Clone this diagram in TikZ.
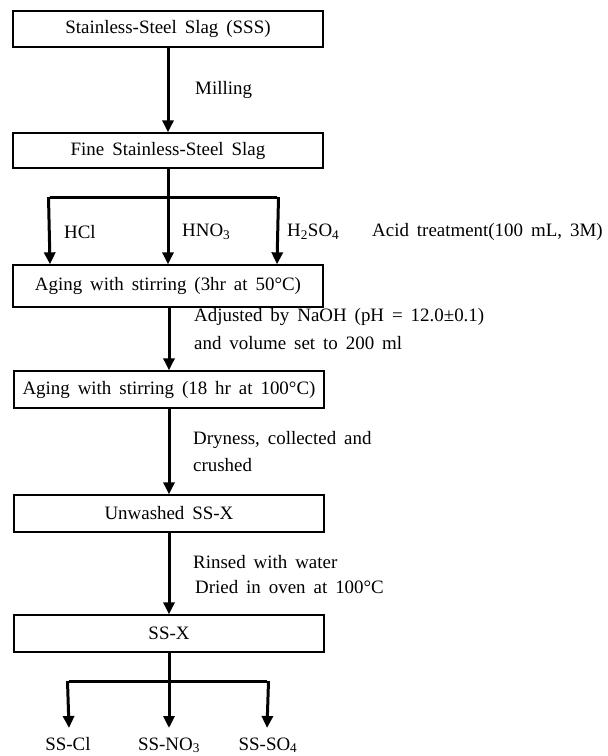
\documentclass[tikz,border=0pt]{standalone}
\usepackage{fontspec}
\setmainfont{Liberation Serif}
\usetikzlibrary{arrows.meta}
\begin{document}
\begin{tikzpicture}[x=1bp,y=-1bp,
  txt/.style={font={\fontsize{19}{22}\selectfont\spaceskip=0.42em plus 0.1em\relax}},
  box/.style={txt, draw, line width=1.3bp, minimum width=310bp, inner sep=0pt},
  arr/.style={line width=3bp, -{Triangle[length=12bp,width=11bp]}},
  lbl/.style={txt, anchor=west, inner sep=0pt},
  trunk/.style={line width=3bp}]
\useasboundingbox (0,0) rectangle (608,756);
\node[box, minimum height=36bp] (b1) at (168,29) {Stainless-Steel Slag (SSS)};
\node[box, minimum height=35bp] (b2) at (168,150.5) {Fine Stainless-Steel Slag};
\node[box, minimum height=42bp] (b3) at (168,286) {Aging with stirring (3hr at 50°C)};
\node[box, minimum height=37bp] (b4) at (169,389.5) {Aging with stirring (18 hr at 100°C)};
\node[box, minimum height=37bp] (b5) at (169,513.5) {Unwashed SS-X};
\node[box, minimum height=37bp] (b6) at (169,633.5) {SS-X};

\draw[arr] (b1.south) -- (b2.north);
\node[lbl] (mill) at (195,90) {Milling};

\coordinate (j1) at (168,197);
\coordinate (jl) at (50,197);
\coordinate (jr) at (277,197);
\draw[trunk] (b2.south) -- (j1);
\draw[trunk] (jl) -- (jr);
\draw[arr] ([xshift=-1.5bp]jl) -- (jl |- b3.north);
\draw[arr] (j1) -- (j1 |- b3.north);
\draw[arr] ([xshift=1.5bp]jr) -- (jr |- b3.north);
\node[lbl] (hcl) at (64,232) {HCl};
\node[lbl] (hno) at (182,232) {HNO\textsubscript{3}};
\node[lbl] (hso) at (287,232) {H\textsubscript{2}SO\textsubscript{4}};
\node[lbl] (acid) at (372,232) {Acid treatment(100 mL, 3M)};

\draw[arr] (b3.south -| b4.north) -- (b4.north);
\node[lbl] (adj1) at (194,317) {Adjusted by NaOH (pH = 12.0±0.1)};
\node[lbl] (adj2) at (194,343) {and volume set to 200 ml};

\draw[arr] (b4.south) -- (b5.north);
\node[lbl] (dry1) at (193,440) {Dryness, collected and};
\node[lbl] (dry2) at (193,465) {crushed};

\draw[arr] (b5.south) -- (b6.north);
\node[lbl] (rin1) at (193,562) {Rinsed with water};
\node[lbl] (rin2) at (195,587) {Dried in oven at 100°C};

\coordinate (k1) at (169,681);
\coordinate (kl) at (69,681);
\coordinate (kr) at (267,681);
\draw[trunk] (b6.south) -- (k1);
\draw[trunk] (kl) -- (kr);
\node[txt, inner sep=0pt, anchor=base] (ocl) at (68,750) {SS-Cl};
\node[txt, inner sep=0pt, anchor=base] (ono) at (169,750) {SS-NO\textsubscript{3}};
\node[txt, inner sep=0pt, anchor=base] (oso) at (268,750) {SS-SO\textsubscript{4}};
\draw[arr] ([xshift=-1.5bp]kl) -- (kl |- 0,728);
\draw[arr] (k1) -- (k1 |- 0,728);
\draw[arr] ([xshift=1.5bp]kr) -- (kr |- 0,728);
\end{tikzpicture}
\end{document}
